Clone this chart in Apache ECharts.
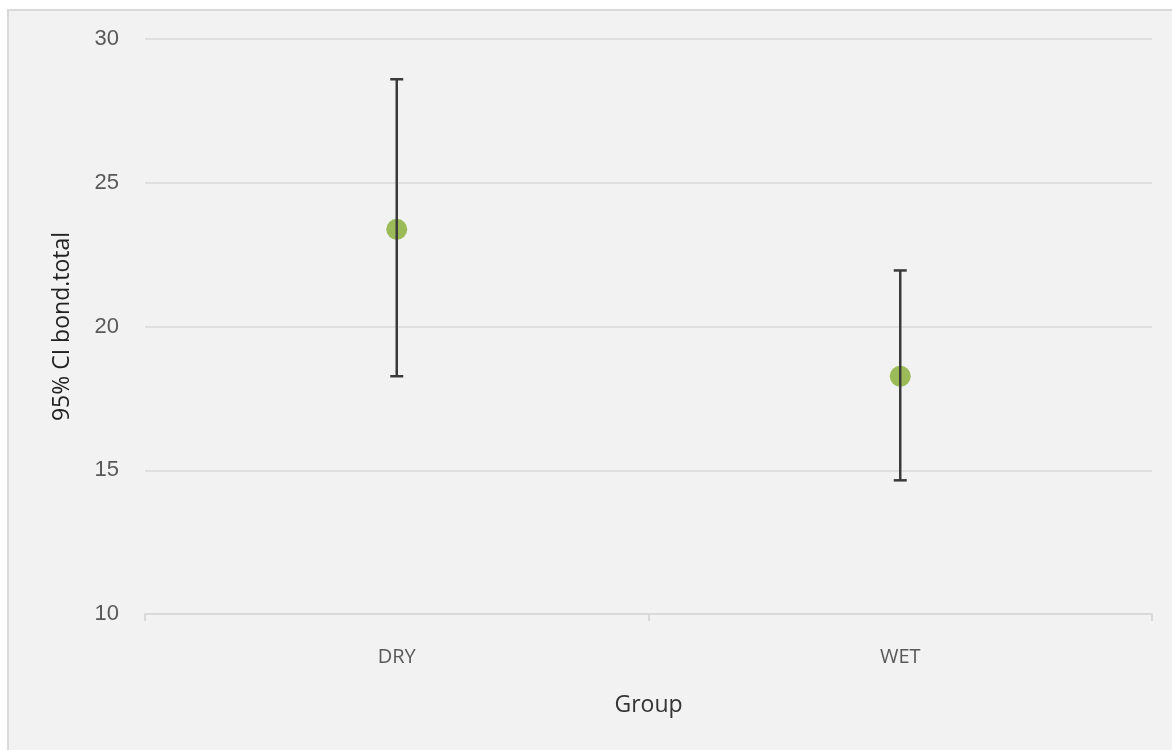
<!DOCTYPE html>
<html>
<head>
<meta charset="utf-8">
<script src="https://cdn.jsdelivr.net/npm/echarts@6/dist/echarts.min.js"></script>
<style>
html,body{margin:0;padding:0;background:#fff;width:1172px;height:750px;overflow:hidden;}
#frame{position:absolute;left:7px;top:9px;width:1170px;height:745px;background:#f2f2f2;border-left:2px solid #d9d9d9;border-top:2px solid #d9d9d9;}
#chart{position:absolute;left:0;top:0;width:1172px;height:750px;}
</style>
</head>
<body>
<div id="frame"></div>
<div id="chart"></div>
<script>
var categories = ['DRY', 'WET'];
var means = [23.38, 18.27];
var lowerCI = [18.27, 14.65];
var upperCI = [28.6, 21.95];
var yTicks = [10, 15, 20, 25, 30];

var chart = echarts.init(document.getElementById('chart'));
var errData = categories.map(function (c, i) { return [i, lowerCI[i], upperCI[i]]; });

chart.setOption({
  backgroundColor: 'transparent',
  animation: false,
  grid: { left: 145, right: 20, top: 39, bottom: 136 },
  xAxis: {
    type: 'category',
    data: categories,
    boundaryGap: true,
    name: 'Group',
    nameLocation: 'middle',
    nameGap: 80,
    nameTextStyle: { fontFamily: 'Open Sans', fontSize: 23, color: '#333333' },
    axisLine: { lineStyle: { color: '#d9d9d9', width: 2 } },
    axisTick: { show: true, length: 7, lineStyle: { color: '#d9d9d9', width: 2 } },
    axisLabel: { fontFamily: 'Open Sans', fontSize: 20, color: '#595959', margin: 33 }
  },
  yAxis: {
    type: 'value',
    min: yTicks[0],
    max: yTicks[yTicks.length - 1],
    interval: 5,
    name: '95% CI bond.total',
    nameLocation: 'middle',
    nameGap: 71,
    nameTextStyle: { fontFamily: 'Open Sans', fontSize: 23, color: '#222222' },
    axisLine: { show: false },
    axisTick: { show: false },
    axisLabel: { fontFamily: 'Liberation Sans', fontSize: 22, color: '#595959', margin: 26 },
    splitLine: { lineStyle: { color: '#d9d9d9', width: 1.5 } }
  },
  series: [
    {
      type: 'scatter',
      data: means,
      symbolSize: 21,
      itemStyle: { color: '#9bbb59', opacity: 1 },
      z: 2
    },
    {
      type: 'custom',
      data: errData,
      z: 3,
      renderItem: function (params, api) {
        var x = api.value(0);
        var lo = api.coord([x, api.value(1)]);
        var hi = api.coord([x, api.value(2)]);
        var cap = 6.5;
        var style = { stroke: '#3a3a3a', lineWidth: 2.5 };
        return {
          type: 'group',
          children: [
            { type: 'line', shape: { x1: lo[0], y1: lo[1], x2: hi[0], y2: hi[1] }, style: style },
            { type: 'line', shape: { x1: lo[0] - cap, y1: lo[1], x2: lo[0] + cap, y2: lo[1] }, style: style },
            { type: 'line', shape: { x1: hi[0] - cap, y1: hi[1], x2: hi[0] + cap, y2: hi[1] }, style: style }
          ]
        };
      }
    }
  ]
});
</script>
</body>
</html>
